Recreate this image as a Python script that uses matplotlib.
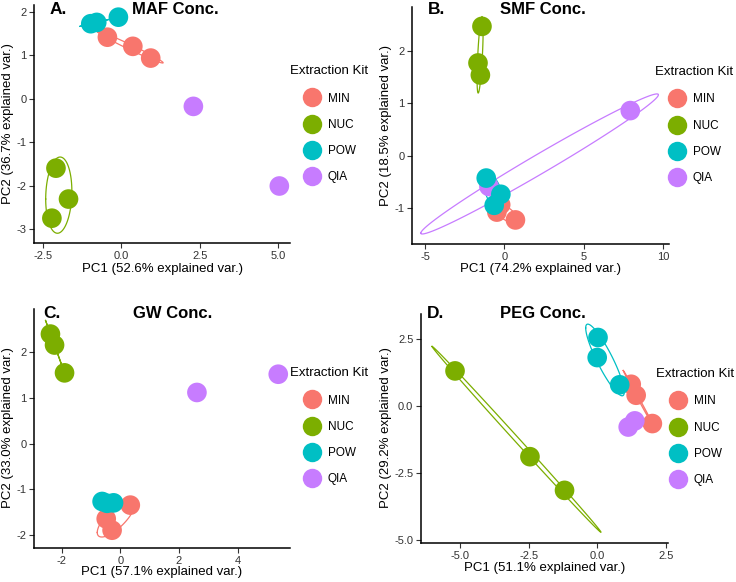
import numpy as np
import matplotlib.pyplot as plt
from matplotlib.lines import Line2D

plt.rcParams['font.family'] = ['Liberation Sans', 'DejaVu Sans']
plt.rcParams['axes.unicode_minus'] = False

W, H = 736, 582

kits = ["MIN", "NUC", "POW", "QIA"]
kit_colors = ["#F8766D", "#7CAE00", "#00BFC4", "#C77CFF"]
draw_order = ["MIN", "NUC", "QIA", "POW"]

# A. MAF Conc.
maf_pc1 = {"MIN": [-0.44, 0.37, 0.94], "NUC": [-2.08, -1.68, -2.21],
           "POW": [-0.97, -0.78, -0.09], "QIA": [2.30, 5.04]}
maf_pc2 = {"MIN": [1.41, 1.20, 0.93], "NUC": [-1.60, -2.31, -2.75],
           "POW": [1.72, 1.75, 1.87], "QIA": [-0.18, -2.01]}

# B. SMF Conc.
smf_pc1 = {"MIN": [-0.47, -0.23, 0.70], "NUC": [-1.41, -1.66, -1.51],
           "POW": [-1.14, -0.22, -0.64], "QIA": [7.94, -0.97, -0.30]}
smf_pc2 = {"MIN": [-1.08, -0.94, -1.23], "NUC": [2.47, 1.77, 1.54],
           "POW": [-0.43, -0.74, -0.95], "QIA": [0.86, -0.59, -0.75]}

# C. GW Conc.
gw_pc1 = {"MIN": [0.34, -0.48, -0.28], "NUC": [-2.38, -2.24, -1.90],
          "POW": [-0.62, -0.45, -0.23], "QIA": [2.61, 5.38]}
gw_pc2 = {"MIN": [-1.35, -1.65, -1.90], "NUC": [2.40, 2.16, 1.55],
          "POW": [-1.27, -1.31, -1.30], "QIA": [1.12, 1.52]}

# D. PEG Conc.
peg_pc1 = {"MIN": [1.24, 1.42, 2.01], "NUC": [-5.18, -2.45, -1.19],
           "POW": [0.03, 0.00, 0.82], "QIA": [1.37, 1.13]}
peg_pc2 = {"MIN": [0.81, 0.40, -0.66], "NUC": [1.31, -1.90, -3.16],
           "POW": [2.56, 1.81, 0.79], "QIA": [-0.56, -0.79]}

panels = [
    dict(letter="A.", title="MAF Conc.", pc1=maf_pc1, pc2=maf_pc2,
         xlabel="PC1 (52.6% explained var.)", ylabel="PC2 (36.7% explained var.)",
         xticks=[-2.5, 0.0, 2.5, 5.0], yticks=[-3, -2, -1, 0, 1, 2], fmt="{:.1f}", yfmt="{:.0f}",
         box=(34, 5, 290, 243), xlim=(-2.78, 5.38), ylim=(-3.32, 2.15),
         letter_xy=(50, 10), title_xy=(175, 10), leg_xy=(290, 71),
         xlab_xy=(162, 269), ylab_xy=(8, 124)),
    dict(letter="B.", title="SMF Conc.", pc1=smf_pc1, pc2=smf_pc2,
         xlabel="PC1 (74.2% explained var.)", ylabel="PC2 (18.5% explained var.)",
         xticks=[-5, 0, 5, 10], yticks=[-1, 0, 1, 2], fmt="{:.0f}", yfmt="{:.0f}",
         box=(412, 7, 669, 244), xlim=(-5.82, 10.38), ylim=(-1.69, 2.84),
         letter_xy=(428, 10), title_xy=(543, 10), leg_xy=(655, 72),
         xlab_xy=(540, 269), ylab_xy=(386, 126)),
    dict(letter="C.", title="GW Conc.", pc1=gw_pc1, pc2=gw_pc2,
         xlabel="PC1 (57.1% explained var.)", ylabel="PC2 (33.0% explained var.)",
         xticks=[-2, 0, 2, 4], yticks=[-2, -1, 0, 1, 2], fmt="{:.0f}", yfmt="{:.0f}",
         box=(34, 309, 290, 548), xlim=(-2.94, 5.78), ylim=(-2.29, 2.95),
         letter_xy=(43, 313), title_xy=(173, 313), leg_xy=(290, 373),
         xlab_xy=(162, 572), ylab_xy=(8, 428)),
    dict(letter="D.", title="PEG Conc.", pc1=peg_pc1, pc2=peg_pc2,
         xlabel="PC1 (51.1% explained var.)", ylabel="PC2 (29.2% explained var.)",
         xticks=[-5.0, -2.5, 0.0, 2.5], yticks=[-5.0, -2.5, 0.0, 2.5], fmt="{:.1f}", yfmt="{:.1f}",
         box=(421, 314, 668, 543), xlim=(-6.42, 2.58), ylim=(-5.13, 3.44),
         letter_xy=(427, 313), title_xy=(543, 313), leg_xy=(656, 374),
         xlab_xy=(545, 568), ylab_xy=(386, 428)),
]

ED = np.sqrt(-2 * np.log(1 - 0.68))  # sqrt(qchisq(0.68, 2))


def ellipse(x, y, n=100):
    x = np.asarray(x)
    y = np.asarray(y)
    sigma = np.cov(x, y)
    L = np.linalg.cholesky(sigma)
    t = np.linspace(-np.pi, np.pi, n)
    circle = np.column_stack([np.cos(t), np.sin(t)])
    pts = circle @ L.T * ED + np.array([x.mean(), y.mean()])
    return pts[:, 0], pts[:, 1]


def fx(px):
    return px / W


def fy(py):
    return 1 - py / H


fig = plt.figure(figsize=(W / 100, H / 100), dpi=100)
color_of = dict(zip(kits, kit_colors))

for p in panels:
    l, t, r, b = p["box"]
    ax = fig.add_axes([fx(l), fy(b), (r - l) / W, (b - t) / H])
    for k in draw_order:
        c = color_of[k]
        xs, ys = p["pc1"][k], p["pc2"][k]
        if len(xs) > 2:
            ex, ey = ellipse(xs, ys)
            ax.plot(ex, ey, color=c, lw=0.9, zorder=2)
        ax.scatter(xs, ys, s=200, color=c, edgecolors='none', zorder=3)
    ax.set_xlim(*p["xlim"])
    ax.set_ylim(*p["ylim"])
    ax.set_xticks(p["xticks"])
    ax.set_xticklabels([p["fmt"].format(v) for v in p["xticks"]])
    ax.set_yticks(p["yticks"])
    ax.set_yticklabels([p["yfmt"].format(v) for v in p["yticks"]])
    for s in ["top", "right"]:
        ax.spines[s].set_visible(False)
    for s in ["left", "bottom"]:
        ax.spines[s].set_linewidth(1.1)
    ax.tick_params(labelsize=8, colors='#333333', length=3.5, width=0.8, pad=2)
    ax.patch.set_alpha(0)

    fig.text(fx(p["xlab_xy"][0]), fy(p["xlab_xy"][1]), p["xlabel"],
             fontsize=9.5, ha='center', va='center')
    fig.text(fx(p["ylab_xy"][0]), fy(p["ylab_xy"][1]), p["ylabel"],
             fontsize=9.5, ha='center', va='center', rotation=90)

    fig.text(fx(p["letter_xy"][0]), fy(p["letter_xy"][1]), p["letter"],
             fontsize=12.5, fontweight='bold', ha='left', va='center')
    fig.text(fx(p["title_xy"][0]), fy(p["title_xy"][1]), p["title"],
             fontsize=12, fontweight='bold', ha='center', va='center')

    lx, ly = p["leg_xy"]
    fig.text(fx(lx), fy(ly), "Extraction Kit", fontsize=9.5, ha='left', va='center')
    handles = [Line2D([], [], marker='o', ls='', ms=14, color=c, mec='none') for c in kit_colors]
    fig.legend(handles, kits, loc='upper left', bbox_to_anchor=(fx(lx + 13), fy(ly + 21.5)),
               frameon=False, fontsize=8.5, handlelength=1.6, handletextpad=0.5,
               labelspacing=1.21, borderpad=0, borderaxespad=0)

fig.savefig("out.png", dpi=100)
